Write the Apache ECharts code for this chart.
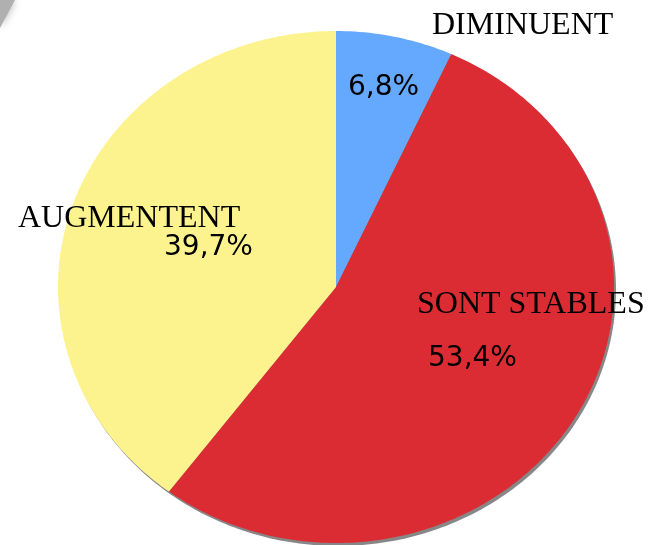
<!DOCTYPE html>
<html>
<head>
<meta charset="utf-8">
<script src="https://cdn.jsdelivr.net/npm/echarts@6/dist/echarts.min.js"></script>
<style>html,body{margin:0;padding:0;background:#fff;}#c{width:648px;height:545px;}</style>
</head>
<body>
<div id="c"></div>
<script>
// ---- data ----
var categories = ['DIMINUENT', 'SONT STABLES', 'AUGMENTENT'];
var values = [6.8, 53.4, 39.7];
var percentLabels = ['6,8%', '53,4%', '39,7%'];

// ---- styles / layout (not data) ----
var colors = ['#65a9fe', '#dc2c33', '#fdf38e'];
// label anchor offsets (top-left of text box) from the pie centre in px: [nameDx, nameDy, pctDx, pctDy]
var labelLayout = [
  [96, -277, 12, -213],
  [81, 2, 92, 58],
  [-318, -84, -172, -53]
];

var total = values.reduce(function (a, b) { return a + b; }, 0);
var cum = [0];
values.forEach(function (v, i) { cum.push(cum[i] + v); });

function arcPoints(api, f0, f1) {
  var pts = [];
  var n = Math.max(2, Math.ceil((f1 - f0) * 360));
  for (var k = 0; k <= n; k++) {
    var th = 2 * Math.PI * (f0 + (f1 - f0) * k / n);
    pts.push(api.coord([Math.sin(th), Math.cos(th)]));
  }
  return pts;
}

var chart = echarts.init(document.getElementById('c'), null, { renderer: 'canvas' });
chart.setOption({
  backgroundColor: '#ffffff',
  animation: false,
  grid: { left: 58, top: 31, width: 556, height: 512 },
  xAxis: { type: 'value', min: -1, max: 1, show: false },
  yAxis: { type: 'value', min: -1, max: 1, show: false },
  graphic: [{
    type: 'polygon',
    shape: { points: [[0, 0], [15, 0], [0, 28]] },
    style: { fill: '#b0b0b0', shadowBlur: 8, shadowColor: '#b0b0b0' }
  }],
  series: [
    {
      type: 'custom',
      clip: false,
      silent: true,
      z: 1,
      data: [[0]],
      renderItem: function (params, api) {
        var pts = arcPoints(api, 0, 1);
        return {
          type: 'polygon',
          x: 2, y: 3,
          shape: { points: pts },
          style: { fill: '#878787' }
        };
      }
    },
    {
      type: 'custom',
      clip: false,
      z: 2,
      data: values.map(function (v, i) { return [i, v]; }),
      renderItem: function (params, api) {
        var i = params.dataIndex;
        var f0 = cum[i] / total, f1 = cum[i + 1] / total;
        var c = api.coord([0, 0]);
        var pts = [c].concat(arcPoints(api, f0, f1));
        var L = labelLayout[i];
        return {
          type: 'group',
          children: [
            {
              type: 'polygon',
              shape: { points: pts },
              style: { fill: colors[i] }
            },
            {
              type: 'text',
              z2: 10,
              style: {
                text: categories[i],
                x: c[0] + L[0], y: c[1] + L[1],
                verticalAlign: 'top', align: 'left',
                font: '32px "Liberation Serif", "Times New Roman", serif',
                fill: '#000000'
              }
            },
            {
              type: 'text',
              z2: 10,
              style: {
                text: percentLabels[i],
                x: c[0] + L[2], y: c[1] + L[3],
                verticalAlign: 'top', align: 'left',
                font: '28px "DejaVu Sans", sans-serif',
                fill: '#000000'
              }
            }
          ]
        };
      }
    }
  ]
});
</script>
</body>
</html>
